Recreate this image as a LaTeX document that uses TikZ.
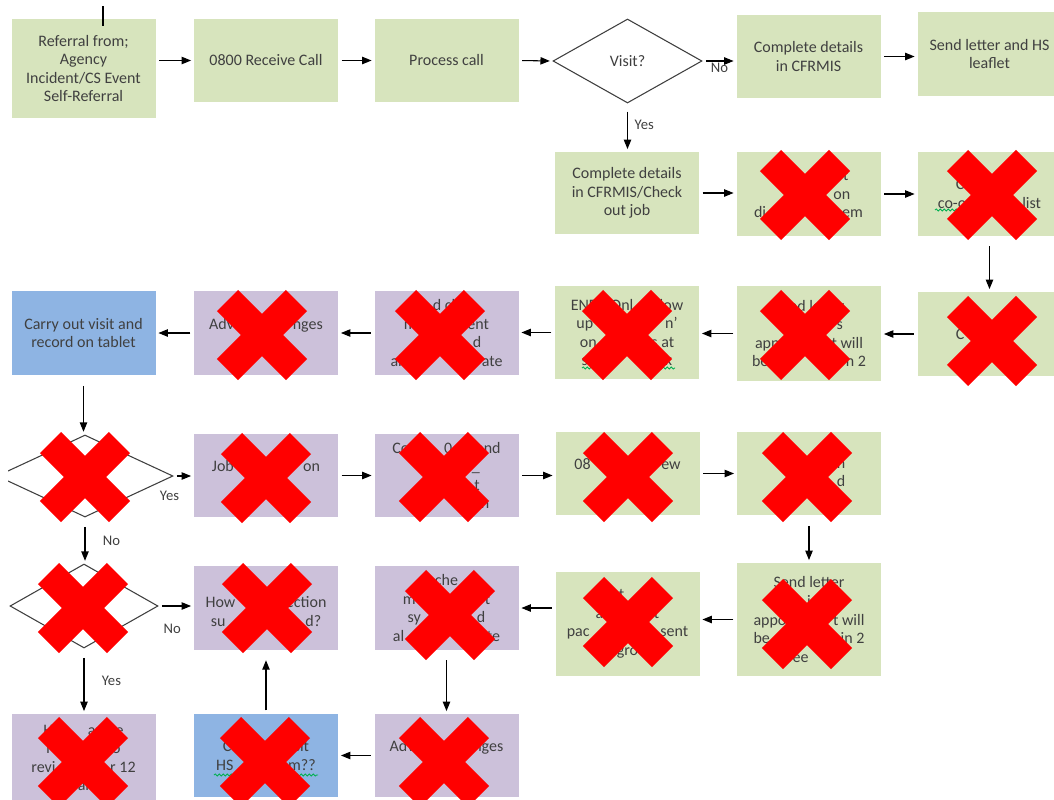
\documentclass[tikz,border=0pt]{standalone}
\usepackage{fontspec}
\setmainfont{Carlito}
\usetikzlibrary{arrows.meta,shapes.geometric,decorations.pathmorphing}
\definecolor{boxgreen}{HTML}{D7E4BD}
\definecolor{boxpurple}{HTML}{CCC1DA}
\definecolor{boxblue}{HTML}{8EB4E3}
\definecolor{txtgray}{HTML}{404040}
\definecolor{spellgreen}{HTML}{00B050}
\newcommand{\Gap}[1]{\hspace*{#1pt}}

\begin{document}
\begin{tikzpicture}[x=0.75pt, y=-0.75pt,
                font=\fontsize{12}{13.9}\selectfont,
                box/.style={rectangle, minimum width=108pt, minimum height=63pt, inner sep=1pt, align=center, text=txtgray},
                gbox/.style={box, fill=boxgreen},
                pbox/.style={box, fill=boxpurple},
                bbox/.style={box, fill=boxblue},
                dec/.style={diamond, draw=txtgray, line width=0.8pt, fill=white, inner sep=0pt, text=txtgray},
                lbl/.style={font=\fontsize{11}{13}\selectfont, text=txtgray, inner sep=1pt},
                arr/.style={-{Triangle[length=7pt,width=5.5pt]}, line width=0.8pt, shorten <=2.5pt, shorten >=2pt},
                redx/.style={line width=22.5pt, red, line cap=butt},
                spell/.style={spellgreen, line width=0.6pt, decorate, decoration={snake, amplitude=0.8pt, segment length=3pt}},
            ]
            \useasboundingbox (0,0) rectangle (1054,800);

            \node[gbox, minimum height=74.25pt] (REF)  at (83.5,68.5)  {Referral from;\\Agency\\Incident/CS Event\\Self-Referral};
            \node[gbox, minimum height=62.25pt] (RCV)  at (266,60.5)   {0800 Receive Call};
            \node[gbox, minimum height=62.25pt] (PROC) at (446.5,60.5) {Process call};
            \node[dec, minimum width=111.75pt, minimum height=63pt] (VIS) at (627.5,61) {Visit?};
            \node[gbox, minimum height=62.25pt] (CFR)  at (808.5,56.5) {Complete details\\in CFRMIS};
            \node[gbox] (HS)   at (989.5,54)   {Send letter and HS\\leaflet};

            \node[gbox, minimum height=61.5pt] (CHK) at (627,193) {Complete details\\in CFRMIS/Check\\out job};
            \node[gbox] (R2B) at (808.5,194) {\Gap{56}t\\\Gap{50}on\\di\Gap{57}em};
            \node[gbox] (R2C) at (989.5,194) {C\Gap{44}\\co-o\Gap{42}list};

            \node[gbox] (R3E) at (989.5,334) {C\Gap{44}};
            \node[gbox, minimum height=71.25pt] (R3D) at (809,333.5) {Send letter\\\Gap{46}s\\app\Gap{39}t will\\be\Gap{58}n 2};
            \node[gbox, minimum height=69.75pt] (R3C) at (627,332.5) {END\Gap{9}Onl\Gap{17}llow\\up\Gap{54}n’\\on\Gap{41}s at\\s\Gap{52}ak};
            \node[pbox] (R3B)  at (446.5,333) {d ch\\m\Gap{38}ent\\\Gap{46}d\\al\Gap{10}e\Gap{44}ate};
            \node[pbox] (ADV1) at (266,333)   {Adv\Gap{44}nges\\\mbox{}};
            \node[bbox] (VISB) at (83.5,333)  {Carry out visit and\\record on tablet};

            \begin{scope}
            \clip (8,420) rectangle (200,530);
            \node[dec, minimum width=132pt, minimum height=61.5pt] (D1) at (85,476) {};
            \end{scope}
            \node[pbox, minimum height=62.25pt] (JOB) at (266,475.5)   {Job\Gap{52}on\\\mbox{}};
            \node[pbox, minimum height=62.25pt] (CO)  at (446.5,475.5) {Co\Gap{26}0\Gap{18}and\\\Gap{44}\_\\\Gap{46}t\\\Gap{58}n};
            \node[gbox, minimum height=62.25pt] (R4C) at (627.5,473.5) {08\Gap{53}ew\\\mbox{}};
            \node[gbox, minimum height=62.25pt] (R4D) at (809,473.5)   {\Gap{48}n\\\Gap{48}d};

            \node[dec, minimum width=111pt, minimum height=63pt] (D2) at (84,606) {};
            \node[pbox] (HOW) at (266,608)   {\mbox{}\\How\Gap{38}ection\\su\Gap{60}d?};
            \node[pbox] (CHE) at (446.5,608) {che\\m\Gap{52}t\\sy\Gap{42}d\\al\Gap{62}te};
            \node[gbox, minimum height=78pt]    (PACK) at (627.5,624) {nt\Gap{15}\\a\Gap{38}t\\pac\Gap{53}sent\\gro};
            \node[gbox, minimum height=84.75pt] (SEND) at (809,619.5) {Send letter\\i\Gap{8}\\appo\Gap{35}t will\\be\Gap{53}in 2\\wee\Gap{21}};

            \node[pbox, minimum height=66pt]    (REV)  at (83.5,758)   {H\Gap{26}are\Gap{5}e\\r\Gap{45}o\\revi\Gap{41}r 12\\al};
            \node[bbox, minimum height=62.25pt] (HSV)  at (266,755.5)  {C\Gap{44}isit\\HS\Gap{41}m??};
            \node[pbox, minimum height=62.25pt] (ADV2) at (446.5,755.5) {Adv\Gap{44}nges\\\mbox{}};

            \coordinate (TOP) at (103,6);
            \draw[line width=1.5pt] (TOP) -- ++(0,20);

            \draw[arr] (REF.east |- RCV.west) -- (RCV.west);
            \draw[arr] (RCV.east) -- (PROC.west);
            \draw[arr] (PROC.east) -- (VIS.west);
            \draw[arr] (VIS.east) -- node[lbl, below] (no1) {No} (VIS.east -| CFR.west);
            \draw[arr] (CFR.east) -- (CFR.east -| HS.west);
            \draw[arr, shorten <=6pt] (VIS.south) -- node[lbl, right, pos=0.45, xshift=4pt] (yes1) {Yes} (VIS.south |- CHK.north);

            \draw[arr] (CHK.east) -- (CHK.east -| R2B.west);
            \draw[arr] (R2B.east) -- (R2B.east -| R2C.west);
            \draw[arr, shorten <=7.5pt] (R2C.south) -- (R2C.south |- R3E.north);

            \draw[arr] (R3E.west) -- (R3E.west -| R3D.east);
            \draw[arr] (R3D.west) -- (R3D.west -| R3C.east);
            \draw[arr] (R3C.west) -- (R3C.west -| R3B.east);
            \draw[arr] (R3B.west) -- (R3B.west -| ADV1.east);
            \draw[arr] (ADV1.west) -- (ADV1.west -| VISB.east);
            \draw[arr, shorten <=8pt] (VISB.south) -- (VISB.south |- D1.north);

            \draw[arr] (D1.east) -- node[lbl, pos=0, below=10pt, xshift=-3pt] (yes2) {Yes} (D1.east -| JOB.west);
            \draw[arr, shorten <=7pt] (D1.south) -- node[lbl, right=12pt] (no2) {No} (D1.south |- D2.north);
            \draw[arr] (JOB.east) -- (JOB.east -| CO.west);
            \draw[arr] (CO.east) -- (CO.east -| R4C.west);
            \draw[arr] (R4C.east) -- (R4C.east -| R4D.west);
            \draw[arr, shorten <=8pt] (R4D.south) -- (R4D.south |- SEND.north);

            \draw[arr] (SEND.west) -- (SEND.west -| PACK.east);
            \draw[arr] (CHE.east -| PACK.west) -- (CHE.east);
            \draw[arr, shorten <=7.5pt] (CHE.south) -- (CHE.south |- ADV2.north);
            \draw[arr] (ADV2.west) -- (ADV2.west -| HSV.east);
            \draw[arr, shorten >=7.5pt] (HSV.north) -- (HSV.north |- HOW.south);
            \draw[arr] (D2.east) -- node[lbl, below=12pt, xshift=-3pt] (no3) {No} (D2.east -| HOW.west);
            \draw[arr, shorten <=7pt] (D2.south) -- node[lbl, right=12pt] (yes3) {Yes} (D2.south |- REV.north);

            \draw[spell] (935,210) -- (966,210);
            \draw[spell] (582,368) -- (593,368);
            \draw[spell] (650,368) -- (675,368);
            \draw[spell] (214,775) -- (233,775);
            \draw[spell] (288,775) -- (318,775);

            \foreach \cx/\cy in {805/195, 992/195, 992/341, 805/335, 627/335, 440/335, 262/335,
                                 85/477, 266/478, 444/477, 628/477, 807/477,
                                 83/608, 267/608, 450/615, 628/622, 807/624,
                                 83/762, 265/762, 444/762}
            \draw[redx, shift={(\cx,\cy)}] (-34.5,-34.5) -- (34.5,34.5) (-34.5,34.5) -- (34.5,-34.5);
        \end{tikzpicture}
\end{document}
